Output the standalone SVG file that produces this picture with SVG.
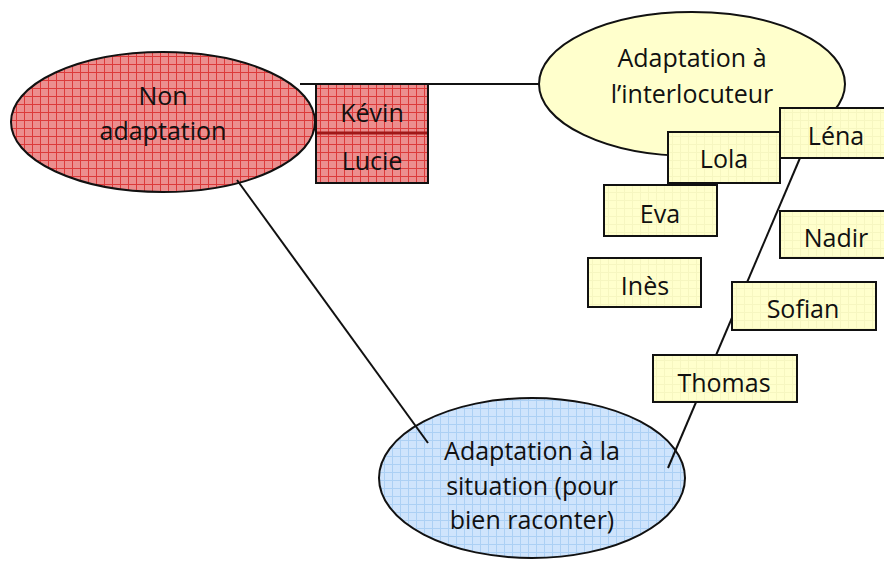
<svg xmlns="http://www.w3.org/2000/svg" width="884" height="563" viewBox="0 0 884 563">
<defs>
<pattern id="pRed" width="8" height="8" patternUnits="userSpaceOnUse">
<rect width="8" height="8" fill="#ec8e8e"/>
<path d="M0 0.5H8M0.5 0V8" stroke="#dc3a3a" stroke-width="1"/>
</pattern>
<pattern id="pBlue" width="8" height="8" patternUnits="userSpaceOnUse">
<rect width="8" height="8" fill="#cfe4fc"/>
<path d="M0 0.5H8M0.5 0V8" stroke="#acd0f4" stroke-width="1"/>
</pattern>
<pattern id="pYel" width="8" height="8" patternUnits="userSpaceOnUse">
<rect width="8" height="8" fill="#ffffcc"/>
<path d="M0 0.5H8M0.5 0V8" stroke="#f6f6c0" stroke-width="1"/>
</pattern>
</defs>
<style>
.t{font-family:"Open Sans","Liberation Sans",sans-serif;font-size:25px;fill:#111;text-anchor:middle}
.ln{stroke:#111;stroke-width:2;fill:none}
.box{fill:url(#pYel);stroke:#111;stroke-width:2}
.ell{stroke:#111;stroke-width:2}
</style>
<rect width="884" height="563" fill="#fff"/>

<g id="non-adaptation">
<ellipse class="ell" cx="163" cy="122" rx="152" ry="70" fill="url(#pRed)"/>
<text class="t" x="163" y="105">Non</text>
<text class="t" x="163" y="140">adaptation</text>
</g>

<g id="adaptation-interlocuteur">
<ellipse class="ell" cx="692" cy="84" rx="153" ry="72" fill="#ffffcc"/>
<text class="t" x="692" y="67">Adaptation à</text>
<text class="t" x="692" y="103">l’interlocuteur</text>
</g>

<g id="adaptation-situation">
<ellipse class="ell" cx="532" cy="478" rx="153" ry="80" fill="url(#pBlue)"/>
<text class="t" x="532" y="460">Adaptation à la</text>
<text class="t" x="532" y="495">situation (pour</text>
<text class="t" x="532" y="529">bien raconter)</text>
</g>

<g id="connectors">
<path class="ln" d="M300 84H540"/>
<path class="ln" d="M237 180L428 443"/>
<path class="ln" d="M800 158L668 468"/>
</g>

<g id="kevin">
<rect x="316" y="84" width="112" height="49" fill="url(#pRed)" stroke="#111" stroke-width="2"/>
<text class="t" x="372" y="122">Kévin</text>
</g>
<g id="lucie">
<rect x="316" y="133" width="112" height="50" fill="url(#pRed)" stroke="#111" stroke-width="2"/>
<text class="t" x="372" y="170">Lucie</text>
</g>
<path d="M317 133H427" stroke="#a01818" stroke-width="3"/>

<g id="lola">
<rect class="box" x="668" y="132" width="112" height="51"/>
<text class="t" x="724" y="168">Lola</text>
</g>
<g id="lena">
<rect class="box" x="780" y="108" width="110" height="50"/>
<text class="t" x="836" y="145">Léna</text>
</g>
<g id="eva">
<rect class="box" x="604" y="185" width="113" height="51"/>
<text class="t" x="660" y="223">Eva</text>
</g>
<g id="nadir">
<rect class="box" x="780" y="211" width="110" height="47"/>
<text class="t" x="836" y="247">Nadir</text>
</g>
<g id="ines">
<rect class="box" x="588" y="258" width="113" height="49"/>
<text class="t" x="645" y="295">Inès</text>
</g>
<g id="sofian">
<rect class="box" x="732" y="282" width="144" height="48"/>
<text class="t" x="803" y="318">Sofian</text>
</g>
<g id="thomas">
<rect class="box" x="653" y="355" width="144" height="47"/>
<text class="t" x="724" y="392">Thomas</text>
</g>
</svg>
